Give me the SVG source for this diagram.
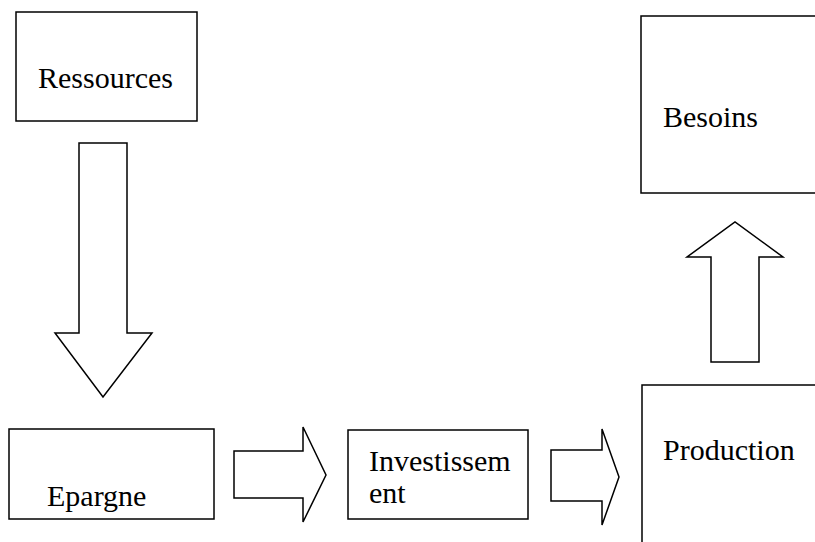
<svg xmlns="http://www.w3.org/2000/svg" width="815" height="542" viewBox="0 0 815 542">
<style>
.box{fill:#fff;stroke:#000;stroke-width:1.5}
.arr{fill:#fff;stroke:#000;stroke-width:1.5;stroke-linejoin:miter}
text{font-family:"Liberation Serif","Times New Roman",serif;font-size:30px;fill:#000}
</style>
<rect width="815" height="542" fill="#fff"/>
<g id="connectors">
<polygon class="arr" points="79,143 127,143 127,333 152,333 103,397 55,333 79,333"/>
<polygon class="arr" points="711,362 759,362 759,257 783,257 735,222 687,257 711,257"/>
<polygon class="arr" points="234,451 303,451 303,427 326,475 303,522 303,498 234,498"/>
<polygon class="arr" points="551,450 602,450 602,429 619,477 602,525 602,501 551,501"/>
</g>
<g id="ressources">
<rect class="box" x="16" y="12" width="181" height="109"/>
<text x="38" y="88">Ressources</text>
</g>
<g id="besoins">
<rect class="box" x="641" y="16" width="180" height="177"/>
<text x="663" y="127">Besoins</text>
</g>
<g id="epargne">
<rect class="box" x="9" y="429" width="205" height="90"/>
<text x="47" y="506">Epargne</text>
</g>
<g id="investissement">
<rect class="box" x="348" y="430" width="180" height="89"/>
<text x="369" y="471">Investissem</text>
<text x="369" y="503">ent</text>
</g>
<g id="production">
<rect class="box" x="642" y="385" width="180" height="170"/>
<text x="663" y="460">Production</text>
</g>
</svg>
